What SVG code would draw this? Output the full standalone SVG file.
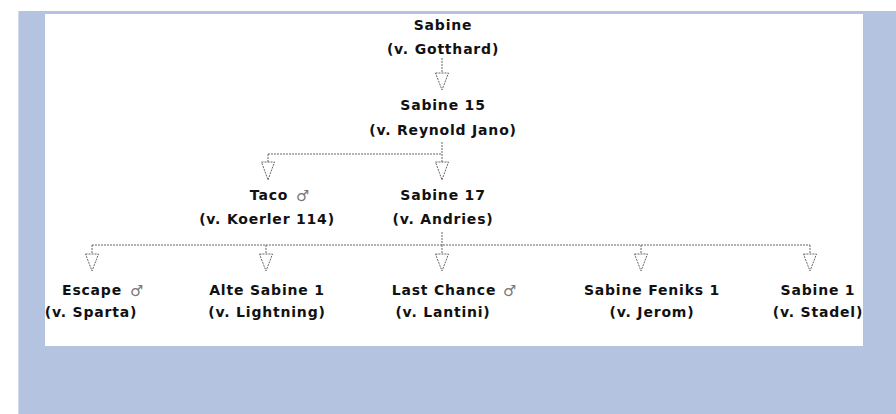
<svg xmlns="http://www.w3.org/2000/svg" width="896" height="414" viewBox="0 0 896 414">
<defs>
<style>
.n{font-family:"DejaVu Sans","Liberation Sans",sans-serif;font-weight:bold;font-size:14px;letter-spacing:0.8px;fill:#111;text-anchor:middle}
.m{font-family:"DejaVu Sans",sans-serif;font-weight:normal;font-size:15px;fill:#777;letter-spacing:0}
.c{fill:none;stroke:#666;stroke-width:1;stroke-dasharray:2 1}
.a{fill:#fff;stroke:#666;stroke-width:1;stroke-dasharray:2 1}
</style>
</defs>
<rect x="0" y="0" width="896" height="414" fill="#fff"/>
<rect x="18" y="11" width="878" height="403" fill="#b4c3e0"/>
<line x1="18.5" y1="11" x2="18.5" y2="414" stroke="#d3dbec"/>
<rect x="45" y="14" width="818" height="332" fill="#fff"/>
<g id="connectors">
<path class="c" d="M442 58V73"/>
<path class="a" d="M435.5 73H448.5L442 90Z"/>
<path class="c" d="M442 142V154M268 154H442M268 154V162M442 154V162"/>
<path class="a" d="M261.5 162H274.5L268 180Z"/>
<path class="a" d="M435.5 162H448.5L442 180Z"/>
<path class="c" d="M442 232V245M92 245H810M92 245V254M266 245V254M442 245V254M641 245V254M810 245V254"/>
<path class="a" d="M85.5 254H98.5L92 271Z"/>
<path class="a" d="M259.5 254H272.5L266 271Z"/>
<path class="a" d="M435.5 254H448.5L442 271Z"/>
<path class="a" d="M634.5 254H647.5L641 271Z"/>
<path class="a" d="M803.5 254H816.5L810 271Z"/>
</g>
<g id="n-sabine">
<text class="n" x="443" y="30">Sabine</text>
<text class="n" x="443" y="54">(v. Gotthard)</text>
</g>
<g id="n-sabine15">
<text class="n" x="443" y="110">Sabine 15</text>
<text class="n" x="443" y="135">(v. Reynold Jano)</text>
</g>
<g id="n-taco">
<text class="n" x="269" y="200">Taco</text>
<text class="m" x="296" y="201">♂</text>
<text class="n" x="267" y="224">(v. Koerler 114)</text>
</g>
<g id="n-sabine17">
<text class="n" x="443" y="200">Sabine 17</text>
<text class="n" x="443" y="224">(v. Andries)</text>
</g>
<g id="n-escape">
<text class="n" x="92" y="295">Escape</text>
<text class="m" x="130" y="296">♂</text>
<text class="n" x="91" y="317">(v. Sparta)</text>
</g>
<g id="n-alte">
<text class="n" x="267" y="295">Alte Sabine 1</text>
<text class="n" x="267" y="317">(v. Lightning)</text>
</g>
<g id="n-lastchance">
<text class="n" x="444" y="295">Last Chance</text>
<text class="m" x="503" y="296">♂</text>
<text class="n" x="443" y="317">(v. Lantini)</text>
</g>
<g id="n-feniks">
<text class="n" x="652" y="295">Sabine Feniks 1</text>
<text class="n" x="652" y="317">(v. Jerom)</text>
</g>
<g id="n-sabine1">
<text class="n" x="818" y="295">Sabine 1</text>
<text class="n" x="818" y="317">(v. Stadel)</text>
</g>
</svg>
